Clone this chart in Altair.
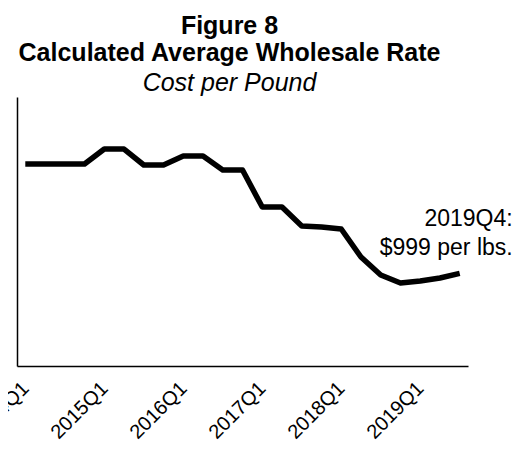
import altair as alt
import pandas as pd

quarters = [
    "2014Q1", "2014Q2", "2014Q3", "2014Q4",
    "2015Q1", "2015Q2", "2015Q3", "2015Q4",
    "2016Q1", "2016Q2", "2016Q3", "2016Q4",
    "2017Q1", "2017Q2", "2017Q3", "2017Q4",
    "2018Q1", "2018Q2", "2018Q3", "2018Q4",
    "2019Q1", "2019Q2", "2019Q3",
]
rates = [
    2178, 2178, 2178, 2178,
    2339, 2339, 2167, 2167,
    2264, 2264, 2113, 2113,
    1714, 1714, 1509, 1499,
    1477, 1175, 981, 895,
    916, 949, 999,
]
tick_labels = ["2014Q1", "2015Q1", "2016Q1", "2017Q1", "2018Q1", "2019Q1"]
annotation = "2019Q4:\n$999 per lbs."

FONT = "Liberation Sans"

df = pd.DataFrame({"quarter": quarters, "rate": rates})
last = pd.DataFrame({"quarter": [quarters[-1]], "rate": [rates[-1]], "label": [annotation]})

x_enc = alt.X(
    "quarter:O",
    sort=quarters,
    scale=alt.Scale(type="point", padding=0.42),
    axis=alt.Axis(
        values=tick_labels,
        title=None,
        labelAngle=-45,
        labelAlign="right",
        labelBaseline="middle",
        labelPadding=19,
        labelOffset=0,
        labelFontSize=20,
        labelFont=FONT,
        labelColor="black",
        labelOverlap=False,
        ticks=False,
        grid=False,
        domainColor="black",
        domainWidth=1.5,
    ),
)
y_enc = alt.Y(
    "rate:Q",
    scale=alt.Scale(domain=[0, 2900], nice=False),
    axis=alt.Axis(
        title=None, labels=False, ticks=False, grid=False,
        domainColor="black", domainWidth=1.5,
    ),
)

line = alt.Chart(df).mark_line(
    color="black", strokeWidth=5.5, strokeJoin="round", strokeCap="butt"
).encode(x=x_enc, y=y_enc)

note = alt.Chart(last).mark_text(
    align="right", baseline="middle", dx=53, dy=-54,
    lineBreak="\n", lineHeight=29, fontSize=23, font=FONT, color="black",
).encode(x=alt.X("quarter:O", sort=quarters), y="rate:Q", text="label:N")

chart = alt.layer(line, note).properties(
    width=451,
    height=269,
    background="white",
    autosize=alt.AutoSizeParams(type="none"),
    padding={"left": 9, "top": 89, "right": 45, "bottom": 78},
    title=alt.TitleParams(
        text=["Figure 8", "Calculated Average Wholesale Rate"],
        subtitle="Cost per Pound",
        font=FONT, fontSize=25, fontWeight="bold", color="black",
        subtitleFont=FONT, subtitleFontSize=25, subtitleFontStyle="italic",
        subtitleColor="black", subtitlePadding=5,
        lineHeight=27, anchor="middle", offset=1, dx=-13,
    ),
).configure_view(stroke=None, strokeWidth=0)

chart.save("out.html", embed_options={"renderer": "svg", "actions": False})
